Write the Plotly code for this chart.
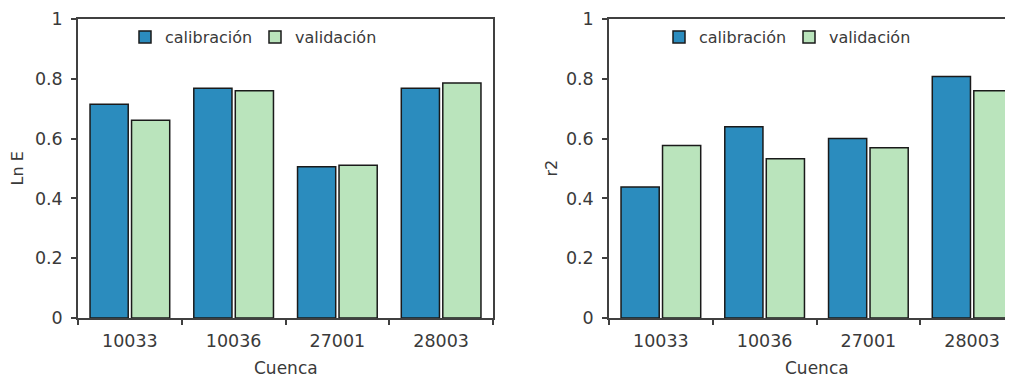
import plotly.graph_objects as go

categories = ["10033", "10036", "27001", "28003"]
lne_calibracion = [0.715, 0.768, 0.506, 0.768]
lne_validacion = [0.661, 0.760, 0.511, 0.786]
r2_calibracion = [0.438, 0.640, 0.600, 0.808]
r2_validacion = [0.577, 0.533, 0.569, 0.760]
y_ticks = [0, 0.2, 0.4, 0.6, 0.8, 1]
y_ticklabels = ["0", "0.2", "0.4", "0.6", "0.8", "1"]

# page body has an 8px margin: design in screen coords, then subtract OFF
OFF = 8
SW, SH = 1013, 377
W, H = SW - OFF, SH - OFF
BLUE = "#2b8cbe"
GREEN = "#bae4bc"
EDGE = "#1a1a1a"
TXT = "#3a3a3a"
FONT = "DejaVu Sans"


def px(x):
    return (x - OFF) / W


def py(y):
    return 1 - (y - OFF) / H


fig = go.Figure()
fig.add_trace(go.Bar(x=categories, y=lne_calibracion, name="calibración", marker=dict(color=BLUE, line=dict(color=EDGE, width=1.5)), xaxis="x", yaxis="y", legend="legend"))
fig.add_trace(go.Bar(x=categories, y=lne_validacion, name="validación", marker=dict(color=GREEN, line=dict(color=EDGE, width=1.5)), xaxis="x", yaxis="y", legend="legend"))
fig.add_trace(go.Bar(x=categories, y=r2_calibracion, name="calibración", marker=dict(color=BLUE, line=dict(color=EDGE, width=1.5)), xaxis="x2", yaxis="y2", legend="legend2"))
fig.add_trace(go.Bar(x=categories, y=r2_validacion, name="validación", marker=dict(color=GREEN, line=dict(color=EDGE, width=1.5)), xaxis="x2", yaxis="y2", legend="legend2"))

plot_top, plot_bot = 19, 318
yd = [py(plot_bot), py(plot_top)]
L1, R1 = 78, 493
L2 = 609
cat_w = (R1 - L1) / 4
r2_max = -0.5 + (SW - L2) / cat_w

axis_common = dict(showline=True, linecolor="#404040", linewidth=1.5, ticks="outside",
                   tickcolor="#404040", tickwidth=1.5, ticklen=5, showgrid=False,
                   zeroline=False, automargin=False,
                   tickfont=dict(family=FONT, size=17.5, color=TXT))

legend_common = dict(orientation="h", xanchor="left", yanchor="top", entrywidth=85,
                     bgcolor="rgba(0,0,0,0)", font=dict(family=FONT, size=16, color=TXT),
                     traceorder="normal")

title_font = dict(family=FONT, size=16, color=TXT)
fig.update_layout(
    width=W, height=H,
    margin=dict(l=0, r=0, t=0, b=0),
    paper_bgcolor="white", plot_bgcolor="white",
    barmode="group", bargap=0.2, bargroupgap=0.08,
    font=dict(family=FONT, size=16, color=TXT),
    xaxis=dict(domain=[px(L1), px(R1)], range=[-0.5, 3.5], tickson="boundaries", mirror=True, anchor="y", ticklabelstandoff=6, **axis_common),
    yaxis=dict(domain=yd, range=[0, 1], tickvals=y_ticks, ticktext=y_ticklabels, mirror=True, anchor="x", ticklabelstandoff=5, **axis_common),
    xaxis2=dict(domain=[px(L2), 1.0], range=[-0.5, r2_max], tickson="boundaries", mirror=True, anchor="y2", ticklabelstandoff=6, **axis_common),
    yaxis2=dict(domain=yd, range=[0, 1], tickvals=y_ticks, ticktext=y_ticklabels, mirror=False, anchor="x2", ticklabelstandoff=5, **axis_common),
    legend=dict(x=px(125), y=py(20), **legend_common),
    legend2=dict(x=px(659), y=py(20), **legend_common),
    annotations=[
        dict(text="Ln E", x=px(17), y=py(168.5), xref="paper", yref="paper", xanchor="center", yanchor="middle", textangle=-90, showarrow=False, font=title_font),
        dict(text="r2", x=px(551), y=py(168.5), xref="paper", yref="paper", xanchor="center", yanchor="middle", textangle=-90, showarrow=False, font=title_font),
        dict(text="Cuenca", x=px(285.5), y=py(368), xref="paper", yref="paper", xanchor="center", yanchor="middle", showarrow=False, font=dict(family=FONT, size=17, color=TXT)),
        dict(text="Cuenca", x=px(816.5), y=py(368), xref="paper", yref="paper", xanchor="center", yanchor="middle", showarrow=False, font=dict(family=FONT, size=17, color=TXT)),
    ],
)

fig.write_html("out.html")
